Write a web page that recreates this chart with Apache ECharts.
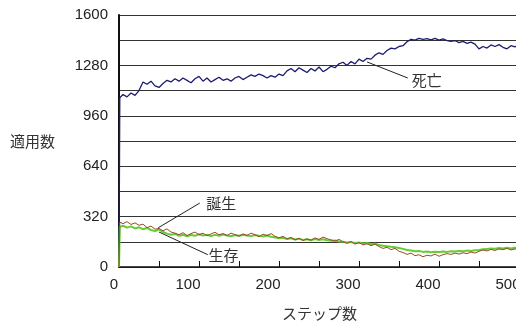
<!DOCTYPE html>
<html>
<head>
<meta charset="utf-8">
<script src="https://cdn.jsdelivr.net/npm/echarts@6/dist/echarts.min.js"></script>
<style>html,body{margin:0;padding:0;background:#fff;}#c{width:516px;height:323px;}</style>
</head>
<body>
<div id="c"></div>
<script>
const steps = [0,1,5,10,15,20,25,30,35,40,45,50,55,60,65,70,75,80,85,90,95,100,105,110,115,120,125,130,135,140,145,150,155,160,165,170,175,180,185,190,195,200,205,210,215,220,225,230,235,240,245,250,255,260,265,270,275,280,285,290,295,300,305,310,315,320,325,330,335,340,345,350,355,360,365,370,375,380,385,390,395,400,405,410,415,420,425,430,435,440,445,450,455,460,465,470,475,480,485,490,495,500,505,510];
const death = [0,1075,1095,1080,1105,1090,1120,1175,1160,1180,1150,1140,1165,1185,1175,1195,1180,1200,1185,1170,1195,1210,1180,1200,1175,1190,1205,1185,1195,1180,1200,1210,1190,1205,1220,1210,1225,1215,1200,1215,1205,1225,1215,1245,1260,1240,1265,1250,1235,1260,1245,1270,1240,1255,1275,1265,1290,1300,1280,1305,1290,1320,1305,1325,1320,1345,1360,1350,1375,1390,1385,1400,1405,1430,1445,1440,1452,1445,1450,1442,1452,1440,1448,1438,1432,1438,1425,1432,1420,1428,1415,1385,1400,1390,1410,1400,1412,1395,1385,1405,1398,1410,1400,1405];
const birth = [0,285,275,288,270,280,265,272,250,260,240,245,230,242,222,215,205,218,200,212,222,205,215,198,210,220,205,212,200,215,205,195,210,200,215,205,192,208,200,212,195,185,195,178,188,172,182,168,178,170,185,175,190,180,172,165,175,160,150,162,145,155,140,148,135,145,130,118,125,110,118,100,92,80,88,72,78,65,75,70,82,68,78,85,80,88,82,90,85,95,88,100,108,102,112,105,115,110,118,108,115,110,105,112];
const survival = [0,255,262,250,258,245,252,240,248,235,228,238,222,212,205,210,198,205,195,203,198,208,200,205,196,204,198,206,200,195,203,198,205,200,196,203,198,194,200,192,188,182,186,178,182,175,180,172,176,170,178,172,176,170,166,168,162,160,156,158,152,155,150,152,146,148,140,135,132,128,125,120,115,108,105,100,102,96,98,94,97,95,98,96,100,98,102,100,104,102,106,108,112,115,118,116,120,118,122,118,122,120,118,121];
const yLabelStep = 320;
const xLabelStep = 100;

const pairs = arr => steps.map((s, i) => [s, arr[i]]);
const txt = { fontFamily: '"Noto Sans CJK JP", sans-serif', fontSize: 15, color: '#333' };

function leader(from, to, textAt, text) {
  return {
    markLine: {
      silent: true, symbol: ['none', 'none'], animation: false,
      lineStyle: { color: '#222', width: 1, type: 'solid' },
      label: { show: false },
      data: [[{ coord: from }, { coord: to }]]
    },
    markPoint: {
      silent: true, animation: false, symbol: 'circle', symbolSize: 0,
      data: [{ coord: textAt, label: Object.assign({ show: true, position: 'right', distance: 0, formatter: text }, txt) }]
    }
  };
}

const chart = echarts.init(document.getElementById('c'));
chart.setOption({
  animation: false,
  backgroundColor: '#fff',
  grid: { left: 119, top: 15, width: 440, height: 252, outerBoundsMode: 'none', containLabel: false },
  xAxis: {
    type: 'value', min: 0, max: 550, interval: 50,
    axisLine: { show: true, onZero: false, lineStyle: { color: '#111', width: 1.5 } },
    axisTick: { show: true, inside: true, length: 6, lineStyle: { color: '#111', width: 1 } },
    splitLine: { show: false },
    axisLabel: {
      margin: 10, fontFamily: 'Liberation Sans', fontSize: 15, color: '#222',
      hideOverlap: false, showMaxLabel: false,
      formatter: v => (v % xLabelStep !== 0 ? '' : (v === 0 ? '{z|0}' : '{n|' + v + '}')),
      rich: {
        z: { fontFamily: 'Liberation Sans', fontSize: 15, color: '#222', padding: [0, 10, 0, 0] },
        n: { fontFamily: 'Liberation Sans', fontSize: 15, color: '#222', padding: [0, 22, 0, 0] }
      }
    }
  },
  yAxis: {
    type: 'value', min: 0, max: 1600, interval: 160,
    axisLine: { show: true, lineStyle: { color: '#111', width: 2 } },
    axisTick: { show: false },
    splitLine: { show: true, lineStyle: { color: '#333', width: 1 } },
    axisLabel: {
      margin: 11, fontFamily: 'Liberation Sans', fontSize: 15, color: '#222',
      padding: [10, 0, 0, 0],
      formatter: v => (v % yLabelStep === 0 ? String(v) : '')
    }
  },
  graphic: [
    { type: 'text', left: 10, top: 134, style: { text: '適用数', fill: '#333', font: '15px "Noto Sans CJK JP"' } },
    { type: 'text', left: 282, top: 306, style: { text: 'ステップ数', fill: '#333', font: '15px "Noto Sans CJK JP"' } }
  ],
  series: [
    Object.assign({
      name: '死亡', type: 'line', data: pairs(death), showSymbol: false, symbol: 'none',
      lineStyle: { color: '#1c1c6e', width: 1.3 }, itemStyle: { color: '#1c1c6e' }
    }, leader([310, 1302], [361, 1200], [366, 1187], '死亡')),
    Object.assign({
      name: '生存', type: 'line', data: pairs(survival), showSymbol: false, symbol: 'none',
      lineStyle: { color: '#66cc33', width: 2 }, itemStyle: { color: '#66cc33' }
    }, leader([50, 222], [111, 78], [112, 76], '生存')),
    Object.assign({
      name: '誕生', type: 'line', data: pairs(birth), showSymbol: false, symbol: 'none',
      lineStyle: { color: '#9a4a2a', width: 1 }, itemStyle: { color: '#9a4a2a' }
    }, leader([49, 249], [101, 406], [109, 406], '誕生'))
  ]
});
</script>
</body>
</html>
